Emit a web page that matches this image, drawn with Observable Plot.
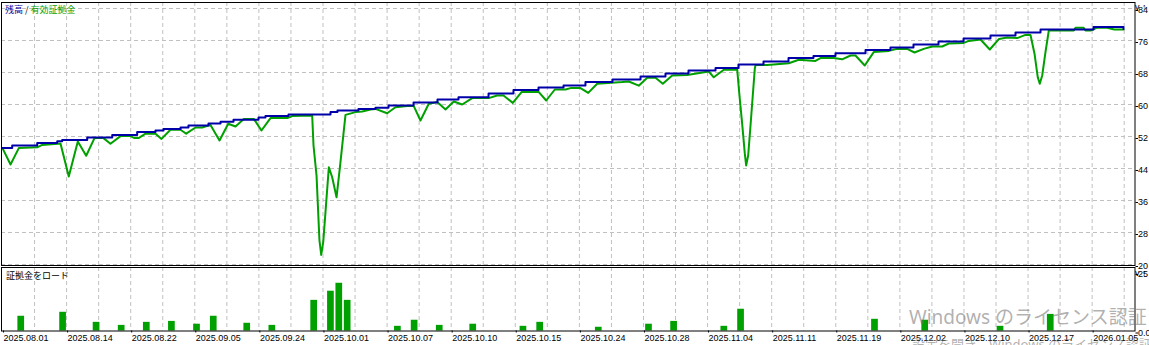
<!DOCTYPE html>
<html>
<head>
<meta charset="utf-8">
<script src="https://cdn.jsdelivr.net/npm/d3@7"></script>
<script src="https://cdn.jsdelivr.net/npm/@observablehq/plot@0.6"></script>
<style>
  html, body { margin: 0; padding: 0; background: #fff; overflow: hidden; }
  #wrap { position: relative; width: 1149px; height: 345px; overflow: hidden; font-family: "Liberation Sans", Arial, sans-serif; }
  #topPanel, #bottomPanel { position: absolute; left: 0; }
  #topPanel { top: 0; }
  #bottomPanel { top: 266px; }
  .lbl { position: absolute; font-family: "Noto Sans CJK JP", sans-serif; font-size: 9px; line-height: 10px; white-space: nowrap; }
  .wm { position: absolute; font-family: "Noto Sans", "Noto Sans CJK JP", sans-serif; color: rgba(110,110,110,0.55); white-space: nowrap; }
</style>
</head>
<body>
<div id="wrap">
  <div id="topPanel"></div>
  <div id="bottomPanel"></div>
  <div class="lbl" style="left:5px; top:5px;"><span style="color:#0000a0">残高</span> <span style="color:#000">/</span> <span style="color:#00a000">有効証拠金</span></div>
  <div class="lbl" style="left:6px; top:271px; color:#000;">証拠金をロード</div>
  <div class="wm" style="left:909px; top:305px; font-size:19px; line-height:25px;">Windows のライセンス認証</div>
  <div class="wm" style="left:912px; top:335px; font-size:13px; line-height:18px;">設定を開き、Windows のライセンス認証を行ってください。</div>
</div>
<script>
// ---- data ----
const blueIdx = [-0.24,0.92,3.11,3.91,6.30,6.89,9.08,9.88,11.83,12.87,15.26,15.85,18.04,19.00,21.03,21.98,24.37,25.81,27.36,30.35,31.18,33.93,36.80,38.95,39.78,42.29,44.32,45.88,48.87,51.73,54.24,57.83,60.81,63.80,66.79,69.41,72.64,75.99,78.97,81.72,84.95,87.69,89.73,90.68,93.67,96.65,99.28,102.87,105.85,108.60,111.59,114.58,117.80,120.79,123.78,129.75,130.11,132.74,133.69];
const blueVal = [49.1,49.75,49.75,50.4,50.8,51.1,51.1,51.75,51.75,52.4,52.4,53.1,53.5,53.9,54.25,54.75,55.25,55.7,56.2,56.75,57.1,57.5,57.5,58.1,58.5,58.9,59.2,59.75,60.5,61.25,61.8,62.75,63.6,64.25,64.75,65.6,66.25,67,67.75,68.5,69.1,70,70,70.75,71.6,72.1,72.8,73.6,74.25,75,75.75,76.5,77.25,78,78.75,78.75,79.4,79.4,78.9];

const greenIdx = [-0.24,0.72,1.71,3.91,4.50,6.69,7.68,8.76,9.76,10.75,11.83,12.66,13.86,15.05,15.53,16.01,16.85,18.04,18.76,19.83,21.03,21.71,22.82,23.62,24.61,25.69,26.73,27.60,28.59,29.79,30.70,31.78,33.78,34.37,36.76,36.92,37.28,37.63,37.84,38.08,38.35,38.75,39.15,39.67,40.14,40.74,41.94,42.74,43.73,44.32,45.72,46.71,48.11,48.90,49.70,50.69,51.70,52.69,53.68,54.68,55.88,57.86,58.86,59.62,60.73,61.77,63.84,64.72,65.75,67.03,67.62,68.82,69.74,70.81,73.80,74.59,75.78,76.79,77.78,78.65,79.77,81.56,84.14,84.74,85.94,87.54,87.81,88.13,88.45,88.61,88.85,89.13,89.40,89.64,89.73,91.12,93.70,94.90,96.89,97.49,99.08,100.08,101.08,101.67,102.78,103.85,105.65,106.65,107.85,108.72,109.83,110.83,112.03,112.82,114.61,115.21,116.61,117.72,118.82,119.80,120.99,121.98,122.58,123.06,123.45,123.69,123.98,124.37,124.77,127.76,127.96,128.91,129.15,129.75,130.55,131.74,132.59,133.70];
const greenVal = [49.1,45.0,49.1,49.3,49.9,50.25,42.0,50.75,47.2,51.6,51.6,50.2,52.1,52.1,51.6,51.6,52.7,52.7,51.4,53.7,53.7,52.7,54.25,54.25,54.9,51.0,55.2,54.5,56.4,56.4,53.5,56.6,56.6,57.1,57.25,49.75,42.25,26.0,22.4,25.6,33.1,44.3,41.8,36.8,45.6,57.4,58.1,58.25,58.75,58.9,57.8,59.3,59.6,59.6,56.0,60.2,60.6,58.75,60.75,60.0,61.6,61.6,62.25,62.25,60.4,63.1,63.1,61.0,63.75,63.75,64.1,64.1,62.9,65.2,65.6,65.75,64.7,66.7,66.7,65.2,67.25,67.4,68.25,66.8,68.7,68.7,62.25,55.25,47.7,44.75,47.25,54.75,62.25,68.9,69.9,69.9,70.3,71.2,70.9,71.6,71.6,71.3,72.25,72.25,69.75,73.1,73.4,73.9,73.9,73.0,73.9,74.5,74.5,75.25,75.4,75.9,76.25,73.75,76.4,76.75,76.6,77.4,77.4,72.7,66.8,65.2,67.25,73.1,78.5,78.5,79.2,79.2,78.5,78.5,79.2,79.2,78.75,78.75];

const barIdx = [2,7,11,14,17,20,23,25,29,32,37,39,40,41,47,49,52,56,62,64,71,77,80,86,88,104,110,119,125];
const barVal = [6.3,8.0,3.7,2.4,3.7,4.1,2.9,6.3,3.3,2.4,13.1,17.0,20.4,13.1,2.0,4.6,2.4,2.9,2.0,3.7,1.6,2.9,4.1,2.0,9.3,5.0,4.6,2.0,7.1];

const dateLabels = ["2025.08.01","2025.08.14","2025.08.22","2025.09.05","2025.09.24","2025.10.01","2025.10.07","2025.10.10","2025.10.15","2025.10.24","2025.10.28","2025.11.04","2025.11.11","2025.11.19","2025.12.02","2025.12.10","2025.12.17","2026.01.05"];
const yTicksTop = [20,28,36,44,52,60,68,76,84];
const yTicksBottom = [0,25];
const yLabelsBottom = ["0.0","25"];

// ---- derived tables ----
const blueData = blueIdx.map((x, i) => ({x, v: blueVal[i]}));
const greenData = greenIdx.map((x, i) => ({x, v: greenVal[i]}));
const barData = barIdx.map((x, i) => ({x, v: barVal[i]}));
const gridStep = 3.829;
const gridX = d3.range(1, 36).map(k => -0.239 + gridStep * k);
const labelX = dateLabels.map((_, k) => -0.239 + 2 * gridStep * k);

const xDomain = [-0.3584, 135.066];
const gridStyle = {stroke: "#c0c0c0", strokeDasharray: "4,3", strokeWidth: 1};
const blueC = "#0000a8", greenC = "#00a000";
const baseStyle = {fontFamily: "Liberation Sans, Arial, sans-serif", fontSize: "9px", color: "#000", background: "transparent", overflow: "visible"};

const topChart = Plot.plot({
  width: 1149, height: 267,
  marginLeft: 1, marginRight: 14.5, marginTop: 2, marginBottom: 2,
  style: baseStyle,
  x: {domain: xDomain, axis: null},
  y: {domain: [19.75, 85.5]},
  marks: [
    Plot.ruleY(yTicksTop, gridStyle),
    Plot.ruleX(gridX, gridStyle),
    Plot.line(greenData, {x: "x", y: "v", stroke: greenC, strokeWidth: 2}),
    Plot.line(blueData, {x: "x", y: "v", stroke: blueC, strokeWidth: 2, curve: "step-after"}),
    Plot.axisY(yTicksTop, {anchor: "right", tickSize: 2.5, tickPadding: 0.5, dy: 2, textAnchor: "start"}),
    Plot.frame({stroke: "#000", strokeWidth: 1})
  ]
});
document.getElementById("topPanel").appendChild(topChart);

const bottomChart = Plot.plot({
  width: 1149, height: 79,
  marginLeft: 1, marginRight: 14.5, marginTop: 1, marginBottom: 14.5,
  style: baseStyle,
  x: {domain: xDomain},
  y: {domain: [0, 27.137]},
  marks: [
    Plot.ruleX(gridX, gridStyle),
    Plot.rectY(barData, {x1: d => d.x - 0.4, x2: d => d.x + 0.4, y: "v", fill: greenC}),
    Plot.axisY(yTicksBottom, {anchor: "right", tickSize: 2.5, tickPadding: 0.5, dy: 2, textAnchor: "start", tickFormat: (d, i) => yLabelsBottom[i]}),
    Plot.axisX(labelX, {anchor: "bottom", tickSize: 2, tickPadding: 2, textAnchor: "start", dx: 1, tickFormat: (d, i) => dateLabels[i]}),
    Plot.frame({stroke: "#000", strokeWidth: 1})
  ]
});
document.getElementById("bottomPanel").appendChild(bottomChart);
</script>
</body>
</html>
